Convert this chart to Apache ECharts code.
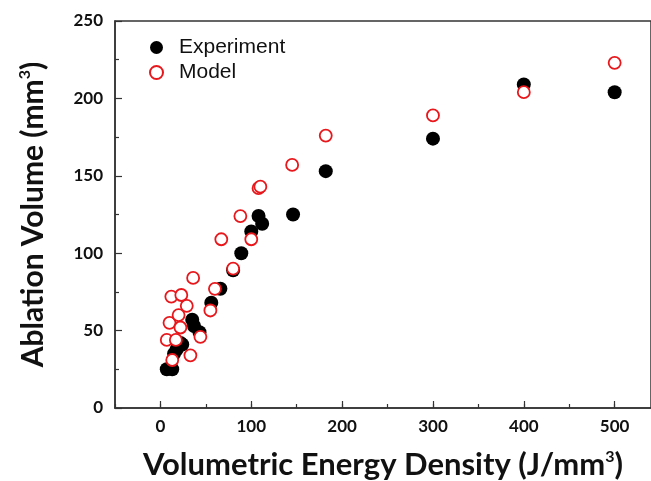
<!DOCTYPE html>
<html>
<head>
<meta charset="utf-8">
<script src="https://cdn.jsdelivr.net/npm/echarts@6/dist/echarts.min.js"></script>
<style>html,body{margin:0;padding:0;background:#fff;}#c{width:651px;height:481px;}</style>
</head>
<body>
<div id="c"></div>
<script>
var experimentX = [7, 13, 15, 18, 22, 24, 35, 37, 43, 56, 66, 80, 89, 100, 108, 112, 146, 182, 300, 400, 500];
var experimentY = [25, 25, 35, 38, 42, 41, 57, 53, 49, 68, 77, 89, 100, 114, 124, 119, 125, 153, 174, 209, 204];
var modelX = [7, 17, 13, 33, 10, 22, 20, 29, 12, 23, 36, 44, 55, 60, 67, 80, 88, 100, 108, 110, 145, 182, 300, 400, 500];
var modelY = [44, 44, 31, 34, 55, 52, 60, 66, 72, 73, 84, 46, 63, 77, 109, 90, 124, 109, 142, 143, 157, 176, 189, 204, 223];
var xMajorTicks = [0, 100, 200, 300, 400, 500];
var xMinorTicks = [-50, 0, 50, 100, 150, 200, 250, 300, 350, 400, 450, 500];
var yTicks = [0, 50, 100, 150, 200, 250];

function pairs(xs, ys) { return xs.map(function (x, i) { return [x, ys[i]]; }); }

var font = 'Lato, "Open Sans", sans-serif';
var chart = echarts.init(document.getElementById('c'), null, { renderer: 'canvas' });
chart.setOption({
  animation: false,
  backgroundColor: '#fff',
  grid: { left: 115, top: 21, right: 0, bottom: 73, outerBoundsMode: 'none', containLabel: false, show: true, borderColor: '#333', borderWidth: 1.5, backgroundColor: 'transparent' },
  legend: {
    orient: 'vertical', left: 144, top: 32, itemGap: 4, itemWidth: 13, itemHeight: 13,
    textStyle: { fontFamily: '"Liberation Sans", Arial, sans-serif', fontSize: 21, color: '#111', padding: [0, 0, 0, 11] },
    data: [{ name: 'Experiment', icon: 'circle' }, { name: 'Model', icon: 'circle' }]
  },
  xAxis: [{
    type: 'value', min: -50, max: 540,
    splitLine: { show: false },
    axisLine: { onZero: false, lineStyle: { color: '#333', width: 1.5 } },
    axisTick: { inside: true, length: 4, customValues: xMinorTicks, lineStyle: { color: '#333', width: 1.2 } },
    axisLabel: { customValues: xMajorTicks, margin: 10, fontFamily: font, fontWeight: 'bold', fontSize: 17, color: '#111' },
    name: 'Volumetric Energy Density (J/mm{sup|3})', nameLocation: 'middle', nameGap: 41,
    nameTextStyle: { fontFamily: font, fontWeight: 'bold', fontSize: 31, color: '#111',
      rich: { sup: { fontFamily: font, fontWeight: 'bold', fontSize: 16, color: '#111', verticalAlign: 'top', padding: [0, 0, 16, 0] } } }
  }, {
    type: 'value', min: -50, max: 540, position: 'bottom',
    splitLine: { show: false },
    axisLine: { show: false, onZero: false },
    axisTick: { inside: true, length: 7, customValues: xMajorTicks, lineStyle: { color: '#333', width: 1.2 } },
    axisLabel: { show: false }
  }],
  yAxis: {
    type: 'value', min: 0, max: 250, interval: 50,
    splitLine: { show: false },
    axisLine: { show: true, onZero: false, lineStyle: { color: '#333', width: 1.5 } },
    axisTick: { inside: true, length: 7, lineStyle: { color: '#333', width: 1.2 } },
    minorTick: { show: true, splitNumber: 2, length: 4, lineStyle: { color: '#333', width: 1.2 } },
    axisLabel: { customValues: yTicks, margin: 12, fontFamily: font, fontWeight: 'bold', fontSize: 17, color: '#111' },
    name: 'Ablation Volume (mm{sup|3})', nameLocation: 'middle', nameGap: 66,
    nameTextStyle: { fontFamily: font, fontWeight: 'bold', fontSize: 30, color: '#111',
      rich: { sup: { fontFamily: font, fontWeight: 'bold', fontSize: 16, color: '#111', verticalAlign: 'top', padding: [0, 0, 16, 0] } } }
  },
  series: [{
    name: 'Experiment', type: 'scatter', symbol: 'circle', symbolSize: 14,
    itemStyle: { color: '#000', opacity: 1 },
    data: pairs(experimentX, experimentY), z: 2
  }, {
    name: 'Model', type: 'scatter', symbol: 'circle', symbolSize: 12,
    itemStyle: { color: '#fff', borderColor: '#e8171b', borderWidth: 1.8, opacity: 1 },
    data: pairs(modelX, modelY), z: 3
  }]
});
</script>
</body>
</html>
